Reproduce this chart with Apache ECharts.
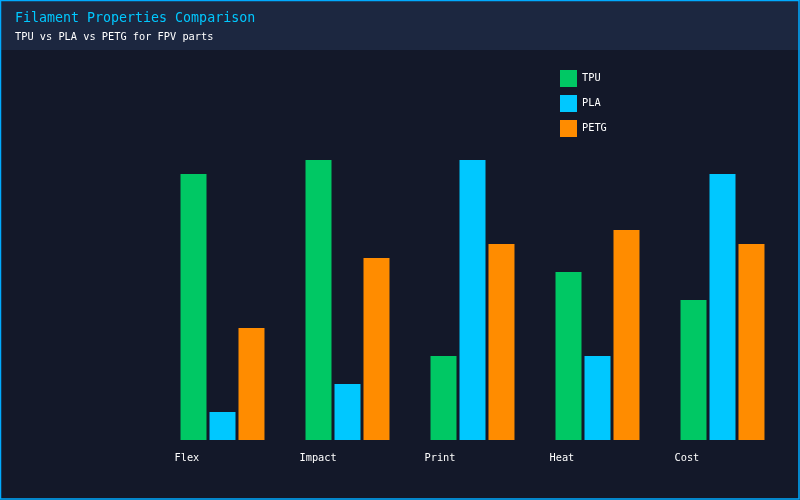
<!DOCTYPE html>
<html>
<head>
<meta charset="utf-8">
<title>Filament Properties Comparison</title>
<script src="https://cdn.jsdelivr.net/npm/echarts@6/dist/echarts.min.js"></script>
<style>
  html, body { margin: 0; padding: 0; background: #131829; }
  #chart { width: 800px; height: 500px; }
</style>
</head>
<body>
<div id="chart"></div>
<script>
// 数据
const categories = ["Flex", "Impact", "Print", "Heat", "Cost"];
const tpuValues = [9.5, 10, 3, 6, 5];
const plaValues = [1, 2, 10, 3, 9.5];
const petgValues = [4, 6.5, 7, 7.5, 7];

const font = "'DejaVu Sans Mono', 'Liberation Mono', monospace";

let myecharts = echarts.init(document.getElementById("chart"));
myecharts.setOption({
  backgroundColor: "#131829",
  textStyle: { fontFamily: font },
  // 顶部标题栏 + 外边框
  graphic: [
    {
      type: "rect",
      z: -1,
      shape: { x: 0, y: 0, width: 800, height: 50 },
      style: { fill: "#1c2740" }
    },
    {
      type: "rect",
      z: 100,
      shape: { x: 0.5, y: 0.5, width: 798.5, height: 498.5 },
      style: { fill: "none", stroke: "#00aaff", lineWidth: 1.5 }
    }
  ],
  title: [
    {
      text: "Filament Properties Comparison",
      left: 10,
      top: 7,
      textStyle: { color: "#00c8ff", fontSize: 13.3, fontWeight: "normal", fontFamily: font }
    },
    {
      text: "TPU vs PLA vs PETG for FPV parts",
      left: 10,
      top: 27,
      textStyle: { color: "#ffffff", fontSize: 10.3, fontWeight: "normal", fontFamily: font }
    }
  ],
  legend: {
    orient: "vertical",
    left: 555,
    top: 65,
    icon: "rect",
    itemWidth: 17,
    itemHeight: 17,
    itemGap: 8,
    textStyle: { color: "#ffffff", fontSize: 10.3, fontFamily: font },
    data: ["TPU", "PLA", "PETG"]
  },
  grid: {
    left: 160,
    right: 15,
    top: 160,
    bottom: 60
  },
  xAxis: {
    type: "category",
    data: categories,
    axisLine: { show: false },
    axisTick: { show: false },
    axisLabel: {
      color: "#ffffff",
      fontSize: 10.3,
      fontFamily: font,
      margin: 13,
      align: "center",
      formatter: "{a|{value}}",
      rich: {
        a: { width: 96, align: "left", color: "#ffffff", fontSize: 10.3, fontFamily: font }
      }
    }
  },
  yAxis: {
    type: "value",
    show: false,
    min: 0,
    max: 10,
    splitLine: { show: false }
  },
  series: [
    {
      name: "TPU",
      type: "bar",
      data: tpuValues,
      barWidth: 26,
      barGap: "11.5%",
      itemStyle: { color: "#00c864" }
    },
    {
      name: "PLA",
      type: "bar",
      data: plaValues,
      barWidth: 26,
      barGap: "11.5%",
      itemStyle: { color: "#00c8ff" }
    },
    {
      name: "PETG",
      type: "bar",
      data: petgValues,
      barWidth: 26,
      barGap: "11.5%",
      itemStyle: { color: "#ff8c00" }
    }
  ]
});
</script>
</body>
</html>
